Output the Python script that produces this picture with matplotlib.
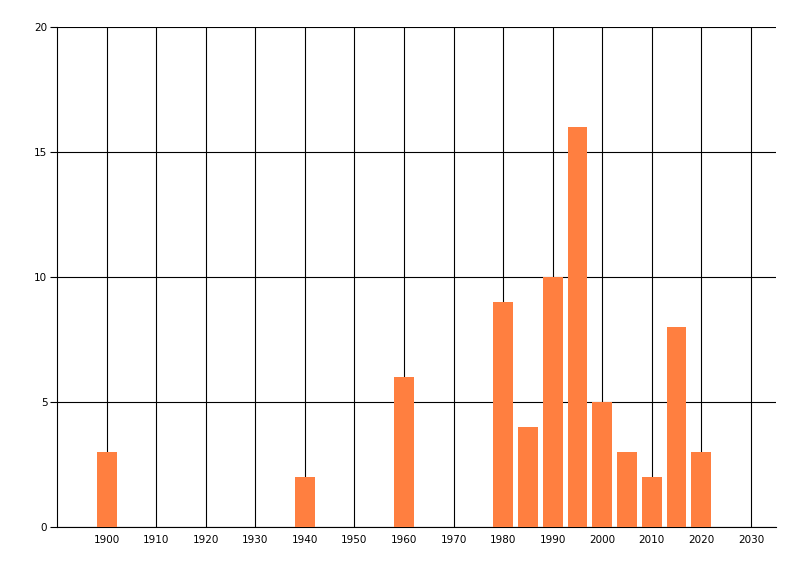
import matplotlib
matplotlib.use('Agg')
import matplotlib.pyplot as plt

# data
years = [1900, 1940, 1960, 1980, 1985, 1990, 1995, 2000, 2005, 2010, 2015, 2020]
counts = [3, 2, 6, 9, 4, 10, 16, 5, 3, 2, 8, 3]
x_ticks = list(range(1900, 2031, 10))
y_ticks = [0, 5, 10, 15, 20]

plt.rcParams['font.family'] = ['DejaVu Sans']

fig = plt.figure(figsize=(8, 5.76), dpi=100)
ax = fig.add_axes([0.0713, 0.0851, 0.8983, 0.868])

ax.bar(years, counts, width=4, color='#FF7F40', zorder=3)

ax.set_xlim(1890, 2035)
ax.set_ylim(0, 20)
ax.set_xticks(x_ticks)
ax.set_yticks(y_ticks)
ax.tick_params(axis='x', length=0, labelsize=7.5, pad=6)
ax.tick_params(axis='y', length=5, width=0.8, labelsize=7.5, pad=2)

ax.grid(True, color='black', linewidth=0.8, zorder=1)
ax.set_axisbelow(True)
for s in ['top', 'right']:
    ax.spines[s].set_visible(False)
for s in ['left', 'bottom']:
    ax.spines[s].set_linewidth(0.8)
    ax.spines[s].set_color('black')

fig.savefig('out.png', dpi=100)
